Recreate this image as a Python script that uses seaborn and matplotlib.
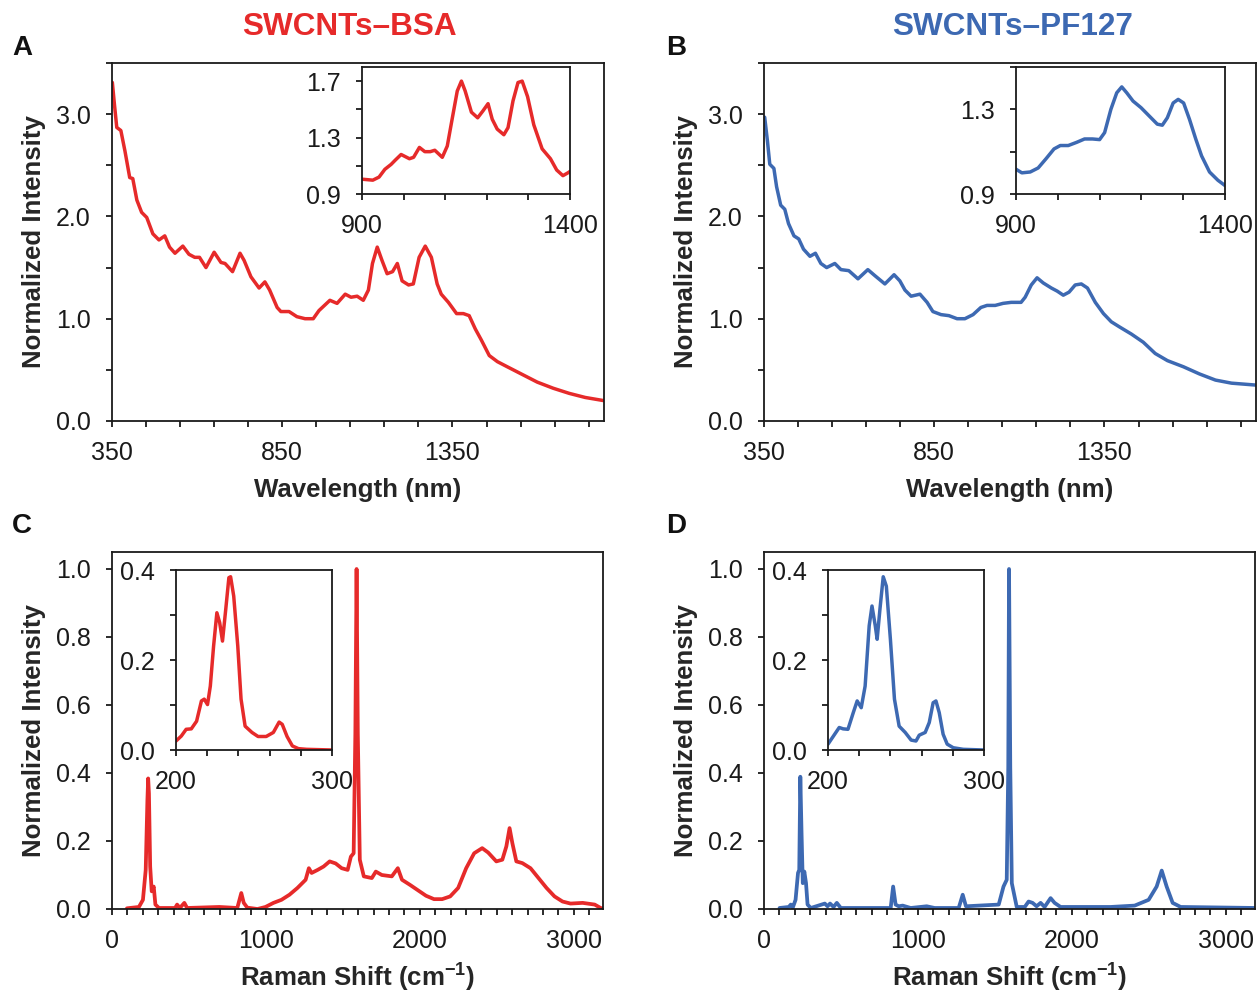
import numpy as np
import pandas as pd
import matplotlib
matplotlib.use("Agg")
import matplotlib.pyplot as plt
from matplotlib.ticker import FixedLocator, FixedFormatter
import seaborn as sns

# ---------------- data ----------------
wl_A = [351, 357, 364, 376, 388, 402, 411, 423, 437, 452, 470, 488, 505, 519, 535, 558, 576, 593, 607, 626,
        650, 670, 682, 704, 726, 738, 758, 782, 799, 813, 835, 846, 870, 893, 917, 941, 958, 974, 990, 1011,
        1035, 1052, 1070, 1088, 1103, 1115, 1129, 1143, 1158, 1174, 1188, 1202, 1221, 1235, 1252, 1270, 1288, 1305, 1317, 1338,
        1362, 1382, 1399, 1417, 1435, 1458, 1482, 1511, 1552, 1599, 1646, 1693, 1740, 1793]
int_A = [3.31, 3.10, 2.87, 2.84, 2.64, 2.38, 2.37, 2.16, 2.04, 1.99, 1.83, 1.77, 1.81, 1.70, 1.64, 1.71, 1.63, 1.60, 1.60, 1.50,
         1.65, 1.55, 1.54, 1.46, 1.64, 1.57, 1.41, 1.30, 1.36, 1.28, 1.11, 1.07, 1.07, 1.02, 1.00, 1.00, 1.08, 1.13, 1.18, 1.15,
         1.24, 1.21, 1.22, 1.18, 1.28, 1.54, 1.70, 1.57, 1.44, 1.46, 1.54, 1.37, 1.33, 1.34, 1.60, 1.71, 1.60, 1.34, 1.24, 1.16,
         1.05, 1.05, 1.03, 0.90, 0.79, 0.64, 0.58, 0.53, 0.46, 0.38, 0.32, 0.27, 0.23, 0.20]

wl_A_in = [900, 926, 941, 955, 970, 980, 994, 1014, 1024, 1038, 1051, 1064, 1075, 1093, 1105, 1116, 1129, 1139, 1148, 1163,
           1178, 1191, 1203, 1213, 1225, 1241, 1251, 1263, 1275, 1285, 1298, 1313, 1333, 1353, 1368, 1383, 1395, 1400]
int_A_in = [1.005, 0.998, 1.02, 1.075, 1.11, 1.14, 1.18, 1.15, 1.16, 1.23, 1.20, 1.20, 1.21, 1.16, 1.24, 1.42, 1.63, 1.70, 1.63, 1.48,
            1.44, 1.49, 1.54, 1.43, 1.36, 1.32, 1.37, 1.56, 1.69, 1.70, 1.59, 1.39, 1.22, 1.15, 1.07, 1.03, 1.05, 1.06]

wl_B = [352, 360, 367, 379, 387, 399, 411, 422, 438, 452, 466, 485, 501, 517, 534, 558, 576, 599, 626, 655,
        676, 705, 732, 749, 764, 782, 808, 829, 846, 870, 893, 917, 940, 964, 987, 1005, 1029, 1052, 1076, 1105,
        1117, 1135, 1152, 1170, 1194, 1211, 1229, 1246, 1264, 1282, 1300, 1323, 1347, 1370, 1394, 1429, 1464, 1499, 1535, 1582,
        1629, 1676, 1723, 1799]
int_B = [2.97, 2.74, 2.51, 2.47, 2.29, 2.11, 2.07, 1.93, 1.81, 1.78, 1.68, 1.61, 1.64, 1.54, 1.50, 1.54, 1.48, 1.47, 1.39, 1.48,
         1.42, 1.34, 1.43, 1.37, 1.28, 1.22, 1.24, 1.16, 1.07, 1.04, 1.03, 1.00, 1.00, 1.04, 1.11, 1.13, 1.13, 1.15, 1.16, 1.16,
         1.21, 1.33, 1.40, 1.35, 1.30, 1.27, 1.23, 1.26, 1.33, 1.34, 1.30, 1.16, 1.05, 0.97, 0.92, 0.85, 0.77, 0.66, 0.59, 0.53,
         0.46, 0.40, 0.37, 0.35]

wl_B_in = [900, 914, 934, 953, 972, 991, 1006, 1025, 1045, 1064, 1083, 1100, 1112, 1127, 1141, 1153, 1165, 1180, 1199, 1218,
           1238, 1250, 1262, 1276, 1288, 1301, 1315, 1330, 1344, 1363, 1383, 1400]
int_B_in = [1.017, 1.00, 1.004, 1.023, 1.067, 1.113, 1.129, 1.129, 1.144, 1.16, 1.16, 1.157, 1.19, 1.30, 1.378, 1.406, 1.378, 1.339, 1.308, 1.27,
            1.23, 1.225, 1.26, 1.33, 1.347, 1.33, 1.253, 1.16, 1.08, 1.004, 0.965, 0.94]

rs_C = [97, 175, 201, 219, 230, 235, 240, 248, 258, 271, 282, 305, 410, 423, 441, 470, 488, 697, 814, 840,
        856, 879, 945, 997, 1049, 1101, 1153, 1205, 1258, 1279, 1297, 1336, 1375, 1414, 1453, 1492, 1531, 1552, 1570, 1581,
        1589, 1597, 1610, 1636, 1688, 1714, 1753, 1818, 1857, 1884, 1936, 1988, 2040, 2092, 2145, 2197, 2249, 2301, 2353, 2405,
        2444, 2497, 2536, 2562, 2583, 2601, 2627, 2666, 2719, 2771, 2823, 2875, 2927, 2979, 3058, 3136, 3175, 3201]
int_C = [0.002, 0.006, 0.027, 0.115, 0.32, 0.384, 0.34, 0.125, 0.052, 0.066, 0.013, 0.003, 0.003, 0.013, 0.003, 0.018, 0.003, 0.006, 0.003, 0.047,
         0.018, 0.004, 0.0, 0.006, 0.018, 0.027, 0.042, 0.062, 0.086, 0.12, 0.106, 0.115, 0.125, 0.14, 0.134, 0.12, 0.115, 0.154, 0.164, 0.516,
         1.0, 0.516, 0.145, 0.096, 0.091, 0.11, 0.10, 0.096, 0.12, 0.086, 0.071, 0.055, 0.039, 0.029, 0.029, 0.037, 0.062, 0.12, 0.164, 0.179,
         0.166, 0.14, 0.145, 0.184, 0.238, 0.194, 0.14, 0.135, 0.12, 0.091, 0.062, 0.037, 0.022, 0.016, 0.018, 0.013, 0.003, 0.0]

rs_C_in = [200, 203.4, 206.5, 209.8, 213.2, 216.3, 218.1, 220.2, 222, 224.1, 226.2, 228, 229.8, 231.9, 233.9, 235, 237, 239.6, 241.7, 244.3,
           248.7, 252.6, 257.8, 262.4, 266.1, 268.1, 271.2, 274.6, 278.5, 283.7, 300]
int_C_in = [0.02, 0.031, 0.046, 0.047, 0.064, 0.109, 0.113, 0.101, 0.142, 0.231, 0.305, 0.283, 0.242, 0.313, 0.383, 0.385, 0.342, 0.231, 0.113, 0.053,
            0.039, 0.030, 0.030, 0.039, 0.062, 0.057, 0.030, 0.009, 0.003, 0.0015, 0.0]

rs_D = [101, 161, 174, 187, 205, 221, 229, 236, 244, 252, 262, 273, 283, 304, 395, 413, 429, 452, 473, 499,
        823, 839, 855, 875, 901, 953, 1057, 1109, 1265, 1291, 1312, 1525, 1556, 1577, 1587, 1592, 1600, 1610, 1642, 1694,
        1719, 1745, 1771, 1797, 1823, 1862, 1888, 1927, 2252, 2408, 2499, 2551, 2584, 2616, 2655, 2707, 3200]
int_D = [0.003, 0.006, 0.013, 0.004, 0.027, 0.106, 0.115, 0.389, 0.223, 0.076, 0.11, 0.076, 0.013, 0.003, 0.016, 0.008, 0.016, 0.006, 0.018, 0.003,
         0.003, 0.066, 0.013, 0.008, 0.010, 0.003, 0.008, 0.003, 0.003, 0.042, 0.008, 0.013, 0.066, 0.086, 0.418, 1.0, 0.418, 0.076, 0.006, 0.006,
         0.022, 0.018, 0.008, 0.018, 0.006, 0.032, 0.018, 0.006, 0.006, 0.010, 0.027, 0.066, 0.113, 0.066, 0.018, 0.006, 0.003]

rs_D_in = [200, 203.3, 207.2, 209.7, 212.8, 216.2, 218.7, 221.3, 223.8, 226.4, 228.2, 230.3, 231.5, 233.3, 235.4, 237.4, 240, 242.6, 245.6, 249.5,
           253.3, 256.4, 258.5, 262.3, 264.9, 267.4, 269.2, 271.3, 273.8, 276.4, 280.3, 286.7, 300]
int_D_in = [0.013, 0.030, 0.050, 0.047, 0.046, 0.083, 0.109, 0.094, 0.142, 0.276, 0.320, 0.276, 0.246, 0.313, 0.385, 0.364, 0.246, 0.113, 0.053, 0.039,
            0.022, 0.020, 0.033, 0.039, 0.061, 0.105, 0.109, 0.083, 0.035, 0.013, 0.005, 0.0015, 0.0]

titles = ["SWCNTs\u2013BSA", "SWCNTs\u2013PF127"]
letters = ["A", "B", "C", "D"]

# ---------------- style ----------------
sns.set_style("ticks")
plt.rcParams["font.family"] = ["Liberation Sans", "DejaVu Sans"]
plt.rcParams["mathtext.fontset"] = "custom"
plt.rcParams["mathtext.rm"] = "Liberation Sans"
plt.rcParams["mathtext.bf"] = "Liberation Sans:bold"
plt.rcParams["axes.edgecolor"] = "#1a1a1a"
plt.rcParams["axes.linewidth"] = 1.3

RED = "#E62A2A"
BLUE = "#3D69B2"
TICK_FS = 18
LAB_FS = 18.6

W, H = 1258, 991
fig = plt.figure(figsize=(W / 100, H / 100), dpi=100)


def px_axes(left, top, right, bottom):
    return fig.add_axes([left / W, 1 - bottom / H, (right - left) / W, (bottom - top) / H])


def style(ax, xmaj, xmaj_lab, xmin, ymaj, ymaj_lab, ymin):
    for s in ax.spines.values():
        s.set_visible(True)
        s.set_linewidth(1.3)
        s.set_color("#1a1a1a")
    ax.xaxis.set_major_locator(FixedLocator(xmaj))
    ax.xaxis.set_major_formatter(FixedFormatter(xmaj_lab))
    ax.xaxis.set_minor_locator(FixedLocator(xmin))
    ax.yaxis.set_major_locator(FixedLocator(ymaj))
    ax.yaxis.set_major_formatter(FixedFormatter(ymaj_lab))
    ax.yaxis.set_minor_locator(FixedLocator(ymin))
    ax.tick_params(which="both", direction="out", length=4.5, width=1.3, color="#1a1a1a",
                   top=False, right=False, labelsize=TICK_FS, labelcolor="#1a1a1a")
    ax.tick_params(axis="x", which="major", pad=10)
    ax.tick_params(axis="y", which="major", pad=11)
    ax.set_facecolor("none")


def draw(ax, x, y, color, lw=2.5):
    df = pd.DataFrame({"x": x, "y": y})
    sns.lineplot(data=df, x="x", y="y", ax=ax, color=color, linewidth=lw, legend=False,
                 solid_joinstyle="round", solid_capstyle="round")
    ax.set_xlabel("")
    ax.set_ylabel("")


# ---------------- Panel A / B (absorbance) ----------------
uv_main = [(112, 63, 604, 421), (764, 63, 1256, 421)]
uv_in = [(362, 67, 570, 194), (1016, 67, 1225, 194)]
uv_data = [(wl_A, int_A, wl_A_in, int_A_in, RED, (0.9, 1.8), [0.9, 1.3, 1.7], [1.1, 1.5]),
           (wl_B, int_B, wl_B_in, int_B_in, BLUE, (0.9, 1.5), [0.9, 1.3], [1.1, 1.5])]

for (pos, ipos, d) in zip(uv_main, uv_in, uv_data):
    x, y, xi, yi, col, ilim, iymaj, iymin = d
    ax = px_axes(*pos)
    draw(ax, x, y, col)
    ax.set_xlim(350, 1795)
    ax.set_ylim(0, 3.5)
    style(ax, [350, 850, 1350], ["350", "850", "1350"], list(range(450, 1800, 100)),
          [0, 1, 2, 3], ["0.0", "1.0", "2.0", "3.0"], [0.5, 1.5, 2.5, 3.5])
    ax.set_xlabel("Wavelength (nm)", fontsize=LAB_FS, fontweight="bold")
    ax.xaxis.set_label_coords(0.5, -0.158)
    ax.xaxis.label.set_va("top")
    ax.set_ylabel("Normalized Intensity", fontsize=LAB_FS, fontweight="bold")
    ax.yaxis.set_label_coords(-0.135, 0.5)

    axi = px_axes(*ipos)
    draw(axi, xi, yi, col)
    axi.set_xlim(900, 1400)
    axi.set_ylim(*ilim)
    style(axi, [900, 1400], ["900", "1400"], [1000, 1100, 1200, 1300],
          iymaj, [f"{v:.1f}" for v in iymaj], iymin)

# ---------------- Panel C / D (Raman) ----------------
ra_main = [(112, 552, 603, 909), (764, 552, 1255, 909)]
ra_in = [(176, 570, 332, 750), (828, 570, 984, 750)]
ra_data = [(rs_C, int_C, rs_C_in, int_C_in, RED), (rs_D, int_D, rs_D_in, int_D_in, BLUE)]

for (pos, ipos, d) in zip(ra_main, ra_in, ra_data):
    x, y, xi, yi, col = d
    ax = px_axes(*pos)
    draw(ax, x, y, col, lw=2.7)
    ax.set_xlim(0, 3190)
    ax.set_ylim(0, 1.05)
    style(ax, [0, 1000, 2000, 3000], ["0", "1000", "2000", "3000"],
          [v for v in range(100, 3200, 100) if v % 1000 != 0],
          [0, 0.2, 0.4, 0.6, 0.8, 1.0], ["0.0", "0.2", "0.4", "0.6", "0.8", "1.0"], [])
    ax.set_xlabel(r"Raman Shift (cm$^{\mathbf{-1}}$)", fontsize=LAB_FS, fontweight="bold")
    ax.xaxis.set_label_coords(0.5, -0.142)
    ax.xaxis.label.set_va("top")
    ax.set_ylabel("Normalized Intensity", fontsize=LAB_FS, fontweight="bold")
    ax.yaxis.set_label_coords(-0.135, 0.5)

    axi = px_axes(*ipos)
    draw(axi, xi, yi, col)
    axi.set_xlim(200, 300)
    axi.set_ylim(0, 0.4)
    style(axi, [200, 300], ["200", "300"], [220, 240, 260, 280],
          [0, 0.2, 0.4], ["0.0", "0.2", "0.4"], [0.1, 0.3])

# ---------------- titles & panel letters ----------------
fig.text(349 / W, 1 - 27 / H, titles[0], ha="center", va="center", color=RED,
         fontsize=22.7, fontweight="bold")
fig.text(1013 / W, 1 - 27 / H, titles[1], ha="center", va="center", color=BLUE,
         fontsize=22.7, fontweight="bold")
for (lx, ly), lt in zip([(12, 55), (666, 55), (12, 533), (666, 533)], letters):
    fig.text(lx / W, 1 - ly / H, lt, ha="left", va="baseline", fontsize=20, fontweight="bold", color="#111111")

fig.savefig("out.png", dpi=100, facecolor="white")
